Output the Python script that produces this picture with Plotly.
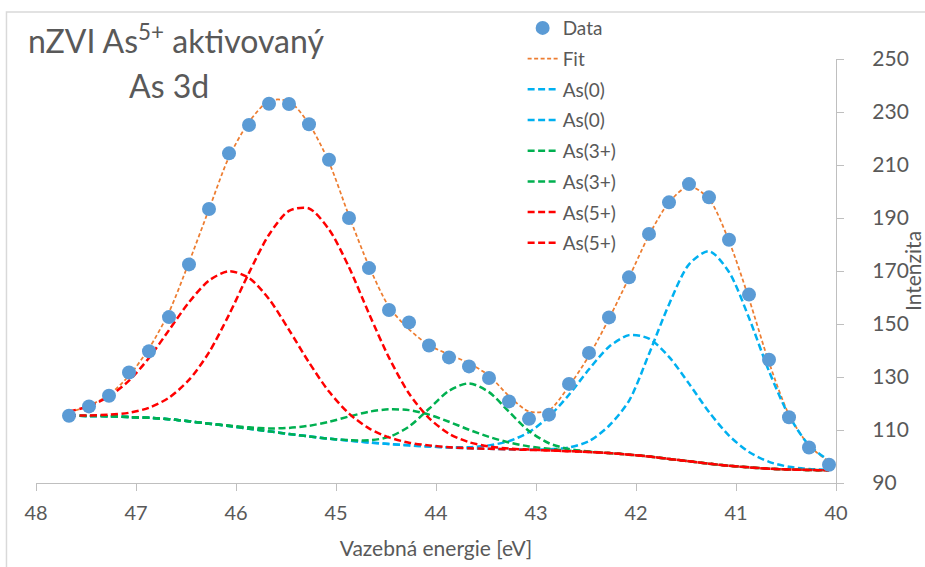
import plotly.graph_objects as go

# ---- data ----
energy = [47.67, 47.47, 47.27, 47.07, 46.87, 46.67, 46.47, 46.27, 46.07, 45.87,
          45.67, 45.47, 45.27, 45.07, 44.87, 44.67, 44.47, 44.27, 44.07, 43.87,
          43.67, 43.47, 43.27, 43.07, 42.87, 42.67, 42.47, 42.27, 42.07, 41.87,
          41.67, 41.47, 41.27, 41.07, 40.87, 40.67, 40.47, 40.27, 40.07]

data_y = [115.4, 118.9, 122.9, 131.7, 139.7, 152.6, 172.5, 193.4, 214.4, 225.1,
          233.1, 233.0, 225.4, 212.0, 190.0, 171.1, 155.3, 150.6, 141.9, 137.4,
          134.0, 129.6, 120.8, 114.2, 115.8, 127.4, 139.1, 152.5, 167.6, 184.0,
          195.9, 202.8, 197.8, 181.8, 161.1, 136.5, 114.8, 103.4, 96.9]

fit_y = [116.6, 119.2, 123.3, 130.5, 140.8, 154.5, 173.3, 193.3, 213.0, 226.2,
         234.2, 234.0, 225.5, 211.0, 190.8, 171.8, 156.5, 148.0, 142.0, 138.5,
         135.2, 130.5, 122.8, 117.0, 117.5, 126.6, 138.0, 152.0, 167.5, 183.5,
         195.9, 202.0, 197.2, 181.3, 159.5, 135.5, 115.8, 104.2, 98.0]

as0_a = [115.4, 115.3, 115.2, 114.9, 114.6, 114.1, 113.3, 112.4, 111.5, 110.5,
         109.5, 108.5, 107.6, 106.7, 106.0, 105.3, 104.7, 104.2, 103.8, 103.4,
         103.1, 102.9, 102.7, 102.6, 102.7, 103.4, 105.8, 111.6, 121.0, 138.7,
         157.4, 172.5, 177.5, 169.6, 152.3, 132.2, 115.4, 104.3, 98.5]

as0_b = [115.4, 115.3, 115.2, 114.9, 114.6, 114.1, 113.3, 112.4, 111.5, 110.5,
         109.5, 108.5, 107.6, 106.7, 106.0, 105.3, 104.7, 104.2, 103.8, 103.5,
         103.5, 104.2, 105.8, 109.2, 115.1, 123.3, 132.9, 141.4, 145.8, 144.5,
         137.6, 127.5, 116.8, 107.9, 101.7, 98.0, 96.1, 95.3, 94.9]

as3_a = [115.4, 115.3, 115.2, 114.9, 114.6, 114.1, 113.3, 112.4, 111.7, 111.0,
         110.6, 110.8, 111.6, 113.1, 115.1, 116.9, 117.8, 117.5, 115.8, 113.1,
         110.1, 107.4, 105.3, 103.8, 102.9, 102.2, 101.8, 101.3, 100.7, 100.0,
         99.1, 98.2, 97.3, 96.5, 95.9, 95.4, 95.1, 94.9, 94.8]

as3_b = [115.4, 115.3, 115.2, 114.9, 114.6, 114.1, 113.3, 112.4, 111.5, 110.5,
         109.5, 108.5, 107.6, 106.7, 106.2, 106.1, 107.4, 111.3, 118.0, 124.8,
         127.6, 124.3, 116.9, 109.6, 105.0, 102.8, 101.9, 101.3, 100.7, 100.0,
         99.1, 98.2, 97.3, 96.5, 95.9, 95.4, 95.1, 94.9, 94.8]

as5_a = [117.0, 119.0, 122.7, 128.6, 137.2, 147.7, 158.2, 166.4, 169.9, 167.4,
         159.4, 147.8, 135.5, 124.5, 116.2, 110.6, 107.2, 105.2, 104.2, 103.5,
         103.1, 102.9, 102.7, 102.5, 102.3, 102.0, 101.7, 101.3, 100.7, 100.0,
         99.1, 98.2, 97.3, 96.5, 95.9, 95.4, 95.1, 94.9, 94.8]

as5_b = [115.5, 115.5, 115.8, 116.5, 118.4, 122.2, 128.9, 139.3, 153.5, 169.3,
         183.7, 192.7, 193.6, 185.7, 171.4, 153.9, 137.3, 123.8, 114.5, 108.6,
         105.4, 103.8, 103.0, 102.6, 102.3, 102.0, 101.7, 101.3, 100.7, 100.0,
         99.1, 98.2, 97.3, 96.5, 95.9, 95.4, 95.1, 94.9, 94.8]

x_ticks = [48, 47, 46, 45, 44, 43, 42, 41, 40]
y_ticks = [90, 110, 130, 150, 170, 190, 210, 230, 250]

FONT = "Lato"
TXT = "#595959"
AX = "#BFBFBF"

fig = go.Figure()

comp = [
    ("Fit", fit_y, "#ED7D31", 1.75, "4px,2.5px", 2),
    ("As(0)", as0_b, "#00B0F0", 2.5, "7px,3.5px", 3),
    ("As(0)", as0_a, "#00B0F0", 2.5, "7px,3.5px", 4),
    ("As(3+)", as3_a, "#00B050", 2.5, "7px,3.5px", 5),
    ("As(3+)", as3_b, "#00B050", 2.5, "7px,3.5px", 6),
    ("As(5+)", as5_a, "#FF0000", 2.5, "7px,3.5px", 7),
    ("As(5+)", as5_b, "#FF0000", 2.5, "7px,3.5px", 8),
]
for name, ys, col, w, dash, rank in comp:
    fig.add_trace(go.Scatter(
        x=energy, y=ys, name=name, mode="lines",
        line=dict(color=col, width=w, dash=dash, shape="spline", smoothing=0.8),
        legendrank=rank, legendgroup="g%d" % rank, hoverinfo="skip"))

fig.add_trace(go.Scatter(
    x=energy, y=data_y, name="Data", mode="markers",
    marker=dict(color="#5B9BD5", size=14, line=dict(width=0)),
    legendrank=1, legendgroup="g1"))

fig.update_layout(
    width=925, height=567, autosize=False,
    margin=dict(l=36, r=89, t=59, b=84, autoexpand=False),
    paper_bgcolor="white", plot_bgcolor="white",
    font=dict(family=FONT, color=TXT, size=20),
    showlegend=True,
    legend=dict(xref="container", yref="container", x=0.565, y=0.984,
                xanchor="left", yanchor="top",
                font=dict(size=19, color=TXT, family=FONT),
                bgcolor="rgba(0,0,0,0)", traceorder="grouped",
                tracegroupgap=3, itemwidth=30),
    xaxis=dict(range=[48, 40], tickvals=x_ticks, ticktext=[str(v) for v in x_ticks],
               automargin=False,
               showgrid=False, zeroline=False, showline=True, linecolor=AX,
               linewidth=1.25, ticks="outside", ticklen=7, tickcolor=AX,
               tickwidth=1.25, ticklabelstandoff=5,
               tickfont=dict(size=20, color=TXT, family=FONT),
               title=dict(text="Vazebná energie [eV]", standoff=18,
                          font=dict(size=21, color=TXT, family=FONT))),
    yaxis=dict(range=[90, 250], tickvals=y_ticks, ticktext=[str(v) for v in y_ticks],
               automargin=False,
               side="right", showgrid=False, zeroline=False, showline=True,
               linecolor=AX, linewidth=1.25, ticks="outside", ticklen=7,
               tickcolor=AX, tickwidth=1.25, ticklabelstandoff=24,
               tickfont=dict(size=21, color=TXT, family=FONT)),
)

# y-axis title (placed as rotated text at the right edge)
fig.add_annotation(text="Intenzita", xref="paper", yref="paper",
                   x=1.095, y=0.5, xanchor="center", yanchor="middle",
                   textangle=-90, showarrow=False,
                   font=dict(size=21, color=TXT, family=FONT))

fig.add_annotation(text="nZVI As<sup>5+</sup> aktivovaný", xref="paper", yref="paper",
                   x=-0.012, y=1.047, xanchor="left", yanchor="middle",
                   showarrow=False, font=dict(size=32, color=TXT, family=FONT))
fig.add_annotation(text="As 3d", xref="paper", yref="paper",
                   x=0.166, y=0.9375, xanchor="center", yanchor="middle",
                   showarrow=False, font=dict(size=32, color=TXT, family=FONT))

# chart-area border (top and left edges visible)
fig.add_shape(type="rect", xref="paper", yref="paper",
              x0=-0.0369, x1=1.12, y0=-0.22, y1=1.1108,
              line=dict(color="#D9D9D9", width=1.5), fillcolor="rgba(0,0,0,0)",
              layer="below")

fig.write_html("out.html")
